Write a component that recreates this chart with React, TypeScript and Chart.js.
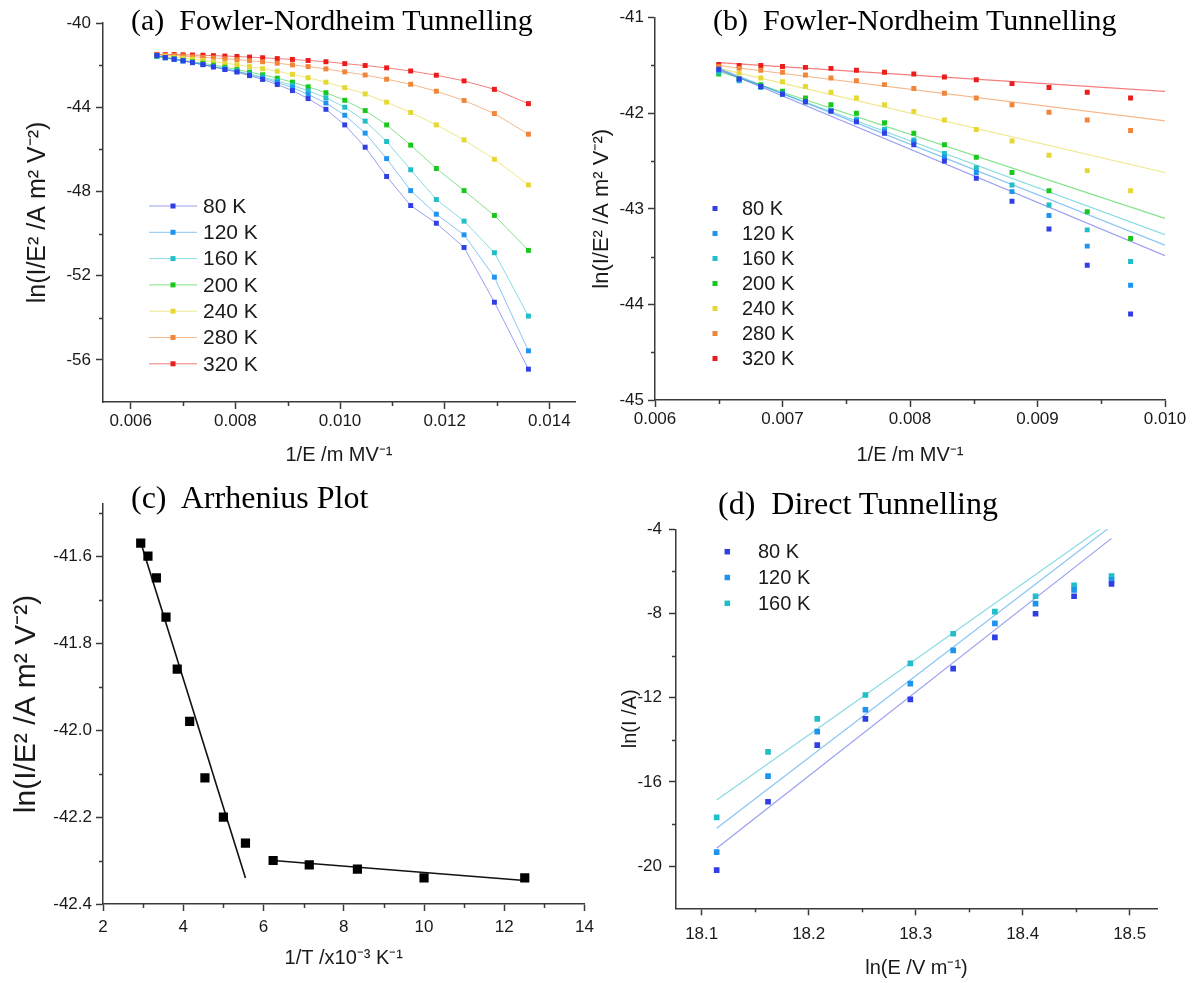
import React, { useEffect, useRef } from 'react';
import { Chart, registerables } from 'chart.js';

// ---------------- DATA ----------------
// Panels (a) and (b): Fowler-Nordheim plot, ln(I/E^2) vs 1/E
const INV_E = [0.0065, 0.00666, 0.00683, 0.007, 0.00718, 0.00738, 0.00758, 0.0078, 0.00803, 0.00827, 0.00852, 0.0088, 0.00909, 0.00939, 0.00973, 0.01009, 0.01048, 0.01089, 0.01135, 0.01184, 0.01237, 0.01295, 0.0136];
const TEMP_LABELS = ['80 K', '120 K', '160 K', '200 K', '240 K', '280 K', '320 K'];
const FN_80K = [-41.54, -41.64, -41.72, -41.8, -41.88, -41.98, -42.09, -42.21, -42.33, -42.5, -42.68, -42.92, -43.21, -43.59, -44.1, -44.84, -45.9, -47.29, -48.67, -49.51, -50.66, -53.26, -56.44];
const FN_120K = [-41.55, -41.65, -41.72, -41.79, -41.88, -41.97, -42.07, -42.19, -42.3, -42.46, -42.62, -42.82, -43.07, -43.39, -43.8, -44.38, -45.23, -46.44, -47.96, -49.08, -50.06, -52.07, -55.57];
const FN_160K = [-41.57, -41.66, -41.73, -41.8, -41.88, -41.97, -42.07, -42.17, -42.28, -42.42, -42.57, -42.75, -42.96, -43.22, -43.55, -44.0, -44.66, -45.63, -46.97, -48.38, -49.41, -50.91, -53.92];
const FN_200K = [-41.59, -41.64, -41.7, -41.77, -41.84, -41.91, -42.0, -42.1, -42.21, -42.33, -42.46, -42.62, -42.81, -43.03, -43.31, -43.67, -44.16, -44.84, -45.8, -46.91, -47.96, -49.14, -50.8];
const FN_240K = [-41.54, -41.58, -41.63, -41.67, -41.72, -41.78, -41.84, -41.91, -41.98, -42.07, -42.17, -42.29, -42.44, -42.6, -42.81, -43.07, -43.37, -43.76, -44.25, -44.84, -45.55, -46.47, -47.69];
const FN_280K = [-41.51, -41.53, -41.55, -41.57, -41.6, -41.63, -41.66, -41.7, -41.74, -41.79, -41.84, -41.91, -41.99, -42.07, -42.18, -42.32, -42.47, -42.67, -42.91, -43.24, -43.68, -44.3, -45.28];
const FN_320K = [-41.49, -41.5, -41.5, -41.51, -41.52, -41.53, -41.55, -41.57, -41.59, -41.62, -41.65, -41.69, -41.73, -41.78, -41.84, -41.93, -42.02, -42.13, -42.28, -42.48, -42.75, -43.15, -43.83];
const FN_SERIES = [FN_80K, FN_120K, FN_160K, FN_200K, FN_240K, FN_280K, FN_320K];
const B_POINT_COUNT = 15; // points shown in panel (b)

// Panel (b): linear fits (start and end values)
const FIT_B_X = [0.0065, 0.01];
const FIT_B_80K = [-41.54, -43.49];
const FIT_B_120K = [-41.53, -43.38];
const FIT_B_160K = [-41.55, -43.27];
const FIT_B_200K = [-41.56, -43.1];
const FIT_B_240K = [-41.53, -42.62];
const FIT_B_280K = [-41.5, -42.08];
const FIT_B_320K = [-41.47, -41.77];
const FIT_B = [FIT_B_80K, FIT_B_120K, FIT_B_160K, FIT_B_200K, FIT_B_240K, FIT_B_280K, FIT_B_320K];

// Panel (c): Arrhenius plot
const INV_T = [2.94, 3.12, 3.33, 3.57, 3.85, 4.16, 4.54, 5.0, 5.55, 6.24, 7.14, 8.34, 10.0, 12.51];
const ARR_LN = [-41.57, -41.6, -41.65, -41.74, -41.86, -41.98, -42.11, -42.2, -42.26, -42.3, -42.31, -42.32, -42.34, -42.34];
const ARR_FIT_HI_X = [2.93, 5.55];
const ARR_FIT_HI_Y = [-41.565, -42.34];
const ARR_FIT_LO_X = [6.24, 12.51];
const ARR_FIT_LO_Y = [-42.3, -42.346];

// Panel (d): Direct tunnelling
const LN_E = [18.114, 18.162, 18.208, 18.253, 18.295, 18.335, 18.374, 18.412, 18.448, 18.483];
const DT_LABELS = ['80 K', '120 K', '160 K'];
const DT_80K = [-20.19, -16.94, -14.25, -13.0, -12.08, -10.62, -9.13, -8.01, -7.18, -6.6];
const DT_120K = [-19.33, -15.72, -13.61, -12.57, -11.33, -9.75, -8.47, -7.53, -6.88, -6.41];
const DT_160K = [-17.68, -14.57, -13.0, -11.87, -10.37, -8.96, -7.91, -7.18, -6.66, -6.22];
const DT_SERIES = [DT_80K, DT_120K, DT_160K];
const DT_FIT_X = [18.114, 18.483];
const DT_FIT_80K = [-19.15, -4.43];
const DT_FIT_120K = [-18.2, -3.84];
const DT_FIT_160K = [-16.86, -3.6];
const DT_FIT = [DT_FIT_80K, DT_FIT_120K, DT_FIT_160K];

// Tick values
const A_X_TICKS = [0.006, 0.008, 0.01, 0.012, 0.014];
const A_X_MINOR = [0.007, 0.009, 0.011, 0.013];
const A_Y_TICKS = [-56, -52, -48, -44, -40];
const A_Y_MINOR = [-54, -50, -46, -42];
const B_X_TICKS = [0.006, 0.007, 0.008, 0.009, 0.01];
const B_X_MINOR = [0.0065, 0.0075, 0.0085, 0.0095];
const B_Y_TICKS = [-45, -44, -43, -42, -41];
const B_Y_MINOR = [-44.5, -43.5, -42.5, -41.5];
const C_X_TICKS = [2, 4, 6, 8, 10, 12, 14];
const C_X_MINOR = [3, 5, 7, 9, 11, 13];
const C_Y_TICKS = [-42.4, -42.2, -42.0, -41.8, -41.6];
const C_Y_MINOR = [-42.3, -42.1, -41.9, -41.7, -41.5];
const D_X_TICKS = [18.1, 18.2, 18.3, 18.4, 18.5];
const D_X_MINOR = [18.15, 18.25, 18.35, 18.45];
const D_Y_TICKS = [-20, -16, -12, -8, -4];
const D_Y_MINOR = [-18, -14, -10, -6];

// ---------------- STYLE ----------------
const COLORS = ['#2f3fe3', '#1f94ef', '#1fbec8', '#18c81c', '#e6d834', '#f0863a', '#ec1c1c'];
const LINE_COLORS = ['rgba(70,80,225,0.55)', 'rgba(40,150,235,0.55)', 'rgba(40,190,200,0.55)', 'rgba(30,200,40,0.55)', 'rgba(230,215,60,0.6)', 'rgba(240,135,60,0.6)', 'rgba(236,40,40,0.6)'];
const SANS = '"Liberation Sans", Arial, sans-serif';
const SERIF = '"Liberation Serif", "Times New Roman", serif';
const AXIS_COLOR = '#3a3a3a';
const TEXT_COLOR = '#1a1a1a';

// ---------------- PLUGINS ----------------
const minorTicks = {
  id: 'minorTicks',
  afterDraw(chart: any, _a: any, opts: any) {
    if (!opts || !opts.display) return;
    const { ctx, chartArea, scales } = chart;
    ctx.save();
    ctx.strokeStyle = AXIS_COLOR;
    ctx.lineWidth = 1.5;
    ctx.beginPath();
    (opts.x || []).forEach((v: number) => {
      const px = Math.round(scales.x.getPixelForValue(v)) + 0.5;
      ctx.moveTo(px, chartArea.bottom);
      ctx.lineTo(px, chartArea.bottom + opts.len);
    });
    (opts.y || []).forEach((v: number) => {
      const py = Math.round(scales.y.getPixelForValue(v)) + 0.5;
      ctx.moveTo(chartArea.left, py);
      ctx.lineTo(chartArea.left - opts.len, py);
    });
    ctx.stroke();
    ctx.restore();
  },
};

const floatLegend = {
  id: 'floatLegend',
  afterDraw(chart: any, _a: any, opts: any) {
    if (!opts || !opts.display) return;
    const ctx = chart.ctx;
    const items = chart.data.datasets.filter((d: any) => d.inLegend);
    ctx.save();
    ctx.font = `${opts.fontSize}px ${SANS}`;
    ctx.textBaseline = 'middle';
    ctx.textAlign = 'left';
    items.forEach((d: any, i: number) => {
      const y = opts.y + i * opts.rowHeight;
      if (opts.lineFrom != null) {
        ctx.strokeStyle = d.borderColor;
        ctx.lineWidth = 1;
        ctx.beginPath();
        ctx.moveTo(opts.lineFrom, y);
        ctx.lineTo(opts.lineTo, y);
        ctx.stroke();
      }
      const s = opts.markerSize;
      ctx.fillStyle = d.pointBackgroundColor;
      ctx.fillRect(opts.markerX - s / 2, y - s / 2, s, s);
      ctx.fillStyle = TEXT_COLOR;
      ctx.fillText(d.label, opts.textX, y + 1);
    });
    ctx.restore();
  },
};

Chart.register(...registerables, minorTicks, floatLegend);

// ---------------- HELPERS ----------------
function axis(p: any) {
  return {
    type: 'linear',
    position: p.isX ? 'bottom' : 'left',
    min: p.min,
    max: p.max,
    afterBuildTicks: (s: any) => {
      s.ticks = p.ticks.map((v: number) => ({ value: v }));
    },
    afterFit: (s: any) => {
      if (p.isX) s.height = p.size;
      else s.width = p.size;
    },
    ticks: {
      autoSkip: false,
      maxRotation: 0,
      padding: p.tickPad,
      color: TEXT_COLOR,
      font: { family: SANS, size: p.fontSize || 16 },
      callback: (v: number) => p.fmt(v),
    },
    grid: {
      display: true,
      drawOnChartArea: false,
      drawTicks: true,
      tickLength: 7,
      tickWidth: 1.5,
      tickColor: AXIS_COLOR,
    },
    border: { display: true, color: AXIS_COLOR, width: 1.5 },
    title: {
      display: true,
      text: p.title,
      color: TEXT_COLOR,
      font: { family: SANS, size: p.titleSize || 20 },
      padding: p.isX ? { top: 0, bottom: p.titlePad } : { top: p.titlePad, bottom: 0 },
    },
  };
}

function pts(xs: number[], ys: number[]) {
  return xs.map((x, i) => ({ x, y: ys[i] }));
}

function baseOptions(padding: any, scales: any, plugins: any) {
  return {
    responsive: false,
    animation: false,
    devicePixelRatio: 1,
    events: [],
    layout: { padding },
    scales,
    plugins: {
      legend: { display: false },
      tooltip: { enabled: false },
      title: { display: false },
      ...plugins,
    },
  };
}

// ---------------- PANEL CONFIGS ----------------
function configA() {
  const datasets = FN_SERIES.map((ys, i) => ({
    label: TEMP_LABELS[i],
    inLegend: true,
    data: pts(INV_E, ys),
    showLine: true,
    borderColor: LINE_COLORS[i],
    borderWidth: 1,
    pointStyle: 'rect',
    pointRadius: 3.5,
    pointBorderWidth: 0,
    pointBackgroundColor: COLORS[i],
    pointBorderColor: COLORS[i],
  }));
  return {
    type: 'scatter',
    data: { datasets },
    options: baseOptions(
      { left: 0, top: 23, right: 23, bottom: 0 },
      {
        x: axis({ isX: true, min: 0.00547, max: 0.01449, ticks: A_X_TICKS, fmt: (v: number) => v.toFixed(3), size: 78, tickPad: 2, fontSize: 17, title: '1/E /m MV\u207B\u00B9', titlePad: 13, titleSize: 20 }),
        y: axis({ isX: false, min: -58, max: -40, ticks: A_Y_TICKS, fmt: (v: number) => String(v), size: 103, tickPad: 5, fontSize: 17, title: 'ln(I/E\u00B2 /A m\u00B2 V\u207B\u00B2)', titlePad: 23, titleSize: 25 }),
      },
      {
        minorTicks: { display: true, x: A_X_MINOR, y: A_Y_MINOR, len: 4 },
        floatLegend: { display: true, fontSize: 21, y: 206, rowHeight: 26.3, lineFrom: 149, lineTo: 197, markerX: 173, markerSize: 5, textX: 203 },
      }
    ),
  };
}

function configB() {
  const pointSets = FN_SERIES.map((ys, i) => ({
    label: TEMP_LABELS[i],
    inLegend: true,
    data: pts(INV_E.slice(0, B_POINT_COUNT), ys.slice(0, B_POINT_COUNT)),
    showLine: false,
    borderColor: COLORS[i],
    pointStyle: 'rect',
    pointRadius: 3.5,
    pointBorderWidth: 0,
    pointBackgroundColor: COLORS[i],
    pointBorderColor: COLORS[i],
  }));
  const fitSets = FIT_B.map((ys, i) => ({
    label: TEMP_LABELS[i] + ' fit',
    data: pts(FIT_B_X, ys),
    showLine: true,
    borderColor: LINE_COLORS[i],
    borderWidth: 1.2,
    pointRadius: 0,
  }));
  return {
    type: 'scatter',
    data: { datasets: [...pointSets, ...fitSets] },
    options: baseOptions(
      { left: 0, top: 17.7, right: 32, bottom: 0 },
      {
        x: axis({ isX: true, min: 0.006, max: 0.01, ticks: B_X_TICKS, fmt: (v: number) => v.toFixed(3), size: 80, tickPad: 2, fontSize: 17, title: '1/E /m MV\u207B\u00B9', titlePad: 13, titleSize: 20 }),
        y: axis({ isX: false, min: -45, max: -41, ticks: B_Y_TICKS, fmt: (v: number) => String(v), size: 70, tickPad: 4, fontSize: 17, title: 'ln(I/E\u00B2 /A m\u00B2 V\u207B\u00B2)', titlePad: 4, titleSize: 22 }),
      },
      {
        minorTicks: { display: true, x: B_X_MINOR, y: B_Y_MINOR, len: 4 },
        floatLegend: { display: true, fontSize: 20, y: 208.5, rowHeight: 25, markerX: 130, markerSize: 5, textX: 157 },
      }
    ),
  };
}

function configC() {
  return {
    type: 'scatter',
    data: {
      datasets: [
        {
          label: 'ln(I/E\u00B2)',
          data: pts(INV_T, ARR_LN),
          showLine: false,
          pointStyle: 'rect',
          pointRadius: 6.5,
          pointBorderWidth: 0,
          pointBackgroundColor: '#000',
          pointBorderColor: '#000',
        },
        { label: 'fit high T', data: pts(ARR_FIT_HI_X, ARR_FIT_HI_Y), showLine: true, borderColor: '#111', borderWidth: 1.6, pointRadius: 0 },
        { label: 'fit low T', data: pts(ARR_FIT_LO_X, ARR_FIT_LO_Y), showLine: true, borderColor: '#111', borderWidth: 1.6, pointRadius: 0 },
      ],
    },
    options: baseOptions(
      { left: 0, top: 34, right: 13, bottom: 0 },
      {
        x: axis({ isX: true, min: 2, max: 14, ticks: C_X_TICKS, fmt: (v: number) => String(v), size: 79, tickPad: 6, fontSize: 17, title: '1/T /x10\u207B\u00B3 K\u207B\u00B9', titlePad: 13, titleSize: 20 }),
        y: axis({ isX: false, min: -42.4, max: -41.48, ticks: C_Y_TICKS, fmt: (v: number) => v.toFixed(1), size: 103, tickPad: 4, fontSize: 17, title: 'ln(I/E\u00B2 /A m\u00B2 V\u207B\u00B2)', titlePad: 9, titleSize: 30 }),
      },
      {
        minorTicks: { display: true, x: C_X_MINOR, y: C_Y_MINOR, len: 4 },
      }
    ),
  };
}

function configD() {
  const pointSets = DT_SERIES.map((ys, i) => ({
    label: DT_LABELS[i],
    inLegend: true,
    data: pts(LN_E, ys),
    showLine: false,
    borderColor: COLORS[i],
    pointStyle: 'rect',
    pointRadius: 4,
    pointBorderWidth: 0,
    pointBackgroundColor: COLORS[i],
    pointBorderColor: COLORS[i],
  }));
  const fitSets = DT_FIT.map((ys, i) => ({
    label: DT_LABELS[i] + ' fit',
    data: pts(DT_FIT_X, ys),
    showLine: true,
    borderColor: LINE_COLORS[i],
    borderWidth: 1.2,
    pointRadius: 0,
  }));
  return {
    type: 'scatter',
    data: { datasets: [...pointSets, ...fitSets] },
    options: baseOptions(
      { left: 0, top: 59.3, right: 40, bottom: 0 },
      {
        x: axis({ isX: true, min: 18.076, max: 18.5255, ticks: D_X_TICKS, fmt: (v: number) => v.toFixed(1), size: 74.7, tickPad: 9, fontSize: 17, title: 'ln(E /V m\u207B\u00B9)', titlePad: 3, titleSize: 20 }),
        y: axis({ isX: false, min: -22, max: -4, ticks: D_Y_TICKS, fmt: (v: number) => String(v), size: 76, tickPad: 7, fontSize: 17, title: 'ln(I /A)', titlePad: 18, titleSize: 20 }),
      },
      {
        minorTicks: { display: true, x: D_X_MINOR, y: D_Y_MINOR, len: 4 },
        floatLegend: { display: true, fontSize: 20, y: 81.7, rowHeight: 25.8, markerX: 127.3, markerSize: 5.5, textX: 158 },
      }
    ),
  };
}

// ---------------- COMPONENTS ----------------
function ChartCanvas(props: { make: () => any; left: number; top: number; width: number; height: number }) {
  const ref = useRef<HTMLCanvasElement | null>(null);
  useEffect(() => {
    if (!ref.current) return;
    const chart = new Chart(ref.current, props.make());
    return () => chart.destroy();
  }, []);
  return (
    <canvas
      ref={ref}
      width={props.width}
      height={props.height}
      style={{ position: 'absolute', left: props.left, top: props.top, width: props.width, height: props.height }}
    />
  );
}

function PanelTitle(props: { text: string; left: number; top: number; size: number }) {
  return (
    <div
      style={{
        position: 'absolute',
        left: props.left,
        top: props.top,
        fontFamily: SERIF,
        fontSize: props.size,
        lineHeight: props.size + 'px',
        whiteSpace: 'pre',
        color: '#000',
      }}
    >
      {props.text}
    </div>
  );
}

export default function App() {
  return (
    <div style={{ position: 'absolute', left: 0, top: 0, width: 1197, height: 983, background: '#fff', overflow: 'hidden' }}>
      <ChartCanvas make={configA} left={0} top={0} width={598} height={480} />
      <ChartCanvas make={configB} left={585} top={0} width={612} height={480} />
      <ChartCanvas make={configC} left={0} top={470} width={600} height={513} />
      <ChartCanvas make={configD} left={600} top={470} width={597} height={513} />
      <PanelTitle text={'(a)  Fowler-Nordheim Tunnelling'} left={131} top={5} size={30} />
      <PanelTitle text={'(b)  Fowler-Nordheim Tunnelling'} left={713} top={5} size={30} />
      <PanelTitle text={'(c)  Arrhenius Plot'} left={131} top={481} size={32} />
      <PanelTitle text={'(d)  Direct Tunnelling'} left={718} top={487} size={32} />
    </div>
  );
}
